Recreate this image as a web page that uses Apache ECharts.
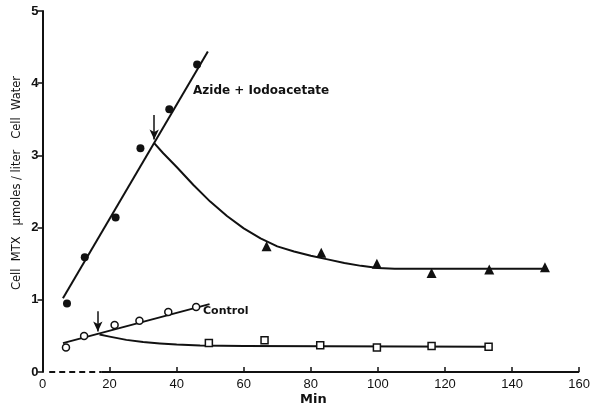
<!DOCTYPE html>
<html>
<head>
<meta charset="utf-8">
<script src="https://cdn.jsdelivr.net/npm/echarts@6/dist/echarts.min.js"></script>
<style>
  html, body { margin: 0; padding: 0; background: #fff; }
  #chart { width: 593px; height: 406px; }
</style>
</head>
<body>
<div id="chart"></div>
<script>
// Axis ticks
var xTicks = [0, 20, 40, 60, 80, 100, 120, 140, 160];
var yTicks = [0, 1, 2, 3, 4, 5];

// Azide + iodoacetate: uptake phase (filled circles) and efflux phase (triangles)
var azideUptake = [[7.3, 0.95], [12.6, 1.59], [21.8, 2.14], [29.2, 3.10], [37.8, 3.64], [46.1, 4.26]];
var azideEfflux = [[66.8, 1.74], [83.1, 1.65], [99.7, 1.50], [116.0, 1.37], [133.2, 1.42], [149.8, 1.45]];
var azideFit = [[6.1, 1.02], [49.3, 4.44]];
var azideDecayCurve = [[33.3, 3.17], [36, 3.03], [40, 2.84], [45, 2.59], [50, 2.36], [55, 2.16],
                       [60, 1.99], [65, 1.85], [70, 1.74], [75, 1.67], [80, 1.61], [85, 1.56],
                       [90, 1.51], [95, 1.47], [100, 1.44], [105, 1.43], [150.4, 1.43]];
var azideArrow = [[33.3, 3.56], [33.3, 3.22]];

// Control: uptake phase (open circles) and efflux phase (open squares)
var controlUptake = [[7.0, 0.34], [12.4, 0.50], [21.5, 0.65], [28.9, 0.71], [37.5, 0.83], [45.8, 0.90]];
var controlEfflux = [[49.6, 0.40], [66.2, 0.44], [82.8, 0.37], [99.7, 0.34], [116.0, 0.36], [133.0, 0.35]];
var controlFit = [[6.1, 0.40], [49.8, 0.94]];
var controlDecayCurve = [[17.0, 0.52], [20, 0.49], [25, 0.445], [30, 0.415], [35, 0.395], [40, 0.38],
                         [47, 0.367], [60, 0.36], [133.5, 0.35]];
var controlArrow = [[16.5, 0.84], [16.5, 0.56]];

// Time axis baseline: dashed start, then solid
var baseDashed = [[2, 0], [17.5, 0]];
var baseSolid = [[17.5, 0], [160, 0]];

var INK = '#111';
var FONT = "'Liberation Sans', Arial, sans-serif";
var LABEL_FONT = "'DejaVu Sans', sans-serif";

function curve(name, data, dashed) {
  return {
    name: name, type: 'line', data: data, smooth: false, symbol: 'none',
    lineStyle: { color: INK, width: 2, type: dashed ? [6, 4] : 'solid', join: 'round' },
    silent: true, z: 2
  };
}
function marks(name, data, symbol, size, filled) {
  return {
    name: name, type: 'scatter', data: data, symbol: symbol, symbolSize: size,
    itemStyle: filled ? { color: INK, opacity: 1 }
                      : { color: '#fff', borderColor: INK, borderWidth: 1.5, opacity: 1 },
    z: 5
  };
}
function arrow(name, pts) {
  return {
    name: name, type: 'line', data: [], silent: true,
    markLine: {
      silent: true, symbol: ['none', 'arrow'], symbolSize: [7, 10],
      label: { show: false },
      lineStyle: { color: INK, width: 1.5, type: 'solid' },
      data: [[{ coord: pts[0] }, { coord: pts[1] }]]
    }
  };
}

var chart = echarts.init(document.getElementById('chart'));
chart.setOption({
  animation: false,
  backgroundColor: '#fff',
  grid: { left: 42.5, right: 10.5, top: 11, bottom: 34 },
  xAxis: {
    type: 'value', min: xTicks[0], max: xTicks[xTicks.length - 1], interval: 20,
    axisLine: { show: false },
    axisTick: { show: true, inside: true, length: 5, lineStyle: { color: INK, width: 1.5 } },
    axisLabel: { color: INK, fontSize: 13, fontFamily: FONT, margin: 6,
                 formatter: function (v) { return xTicks.indexOf(v) >= 0 ? String(v) : ''; } },
    splitLine: { show: false }
  },
  yAxis: {
    type: 'value', min: yTicks[0], max: yTicks[yTicks.length - 1], interval: 1,
    axisLine: { show: true, lineStyle: { color: INK, width: 2 } },
    axisTick: { show: true, length: 5, lineStyle: { color: INK, width: 1.5 } },
    axisLabel: { color: INK, fontSize: 13, fontWeight: 'bold', fontFamily: FONT, margin: 4 },
    splitLine: { show: false }
  },
  graphic: [
    { type: 'text', left: 193, top: 85,
      style: { text: 'Azide + Iodoacetate', font: "bold 12px " + LABEL_FONT, fill: INK } },
    { type: 'text', left: 203, top: 306,
      style: { text: 'Control', font: "bold 11px " + LABEL_FONT, fill: INK } },
    { type: 'text', left: 300, top: 393,
      style: { text: 'Min', font: "bold 13px " + LABEL_FONT, fill: INK } },
    { type: 'text', x: 17, y: 183, rotation: Math.PI / 2,
      style: { text: 'Cell  MTX   \u03bcmoles / liter   Cell  Water', font: "11.5px " + LABEL_FONT,
               fill: INK, align: 'center', verticalAlign: 'middle' } }
  ],
  series: [
    curve('baseDashed', baseDashed, true),
    curve('baseSolid', baseSolid, false),
    curve('azideFit', azideFit, false),
    curve('azideDecay', azideDecayCurve, false),
    curve('controlFit', controlFit, false),
    curve('controlDecay', controlDecayCurve, false),
    arrow('azideArrow', azideArrow),
    arrow('controlArrow', controlArrow),
    marks('Azide + Iodoacetate uptake', azideUptake, 'circle', 8, true),
    marks('Azide + Iodoacetate efflux', azideEfflux, 'triangle', 10, true),
    marks('Control uptake', controlUptake, 'circle', 7, false),
    marks('Control efflux', controlEfflux, 'rect', 7, false)
  ]
});
</script>
</body>
</html>
